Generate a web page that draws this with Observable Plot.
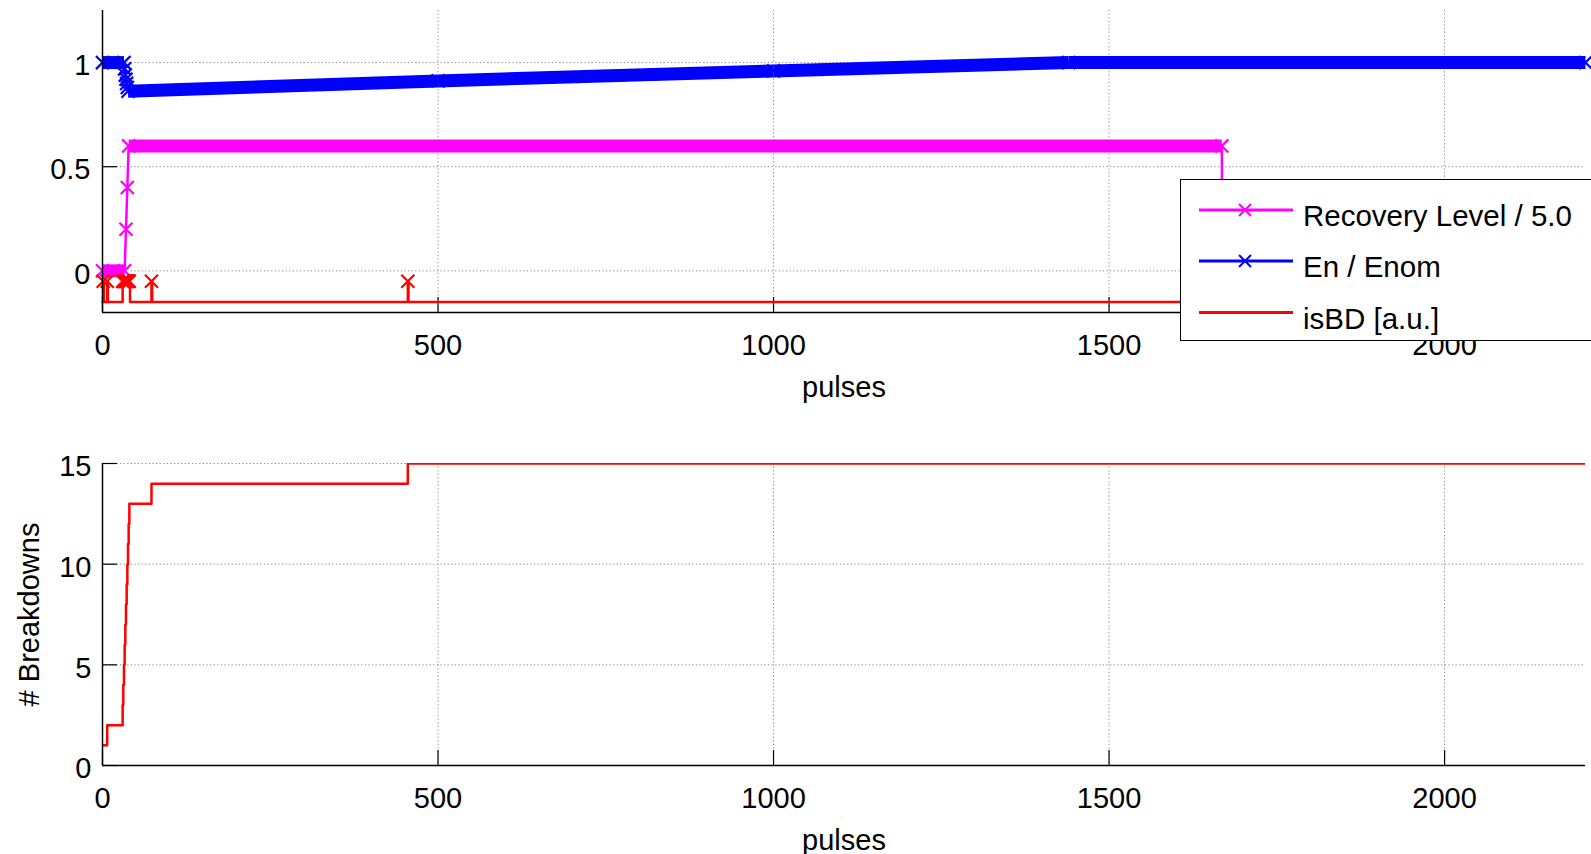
<!DOCTYPE html>
<html><head><meta charset="utf-8">
<script src="https://cdn.jsdelivr.net/npm/d3@7"></script>
<script src="https://cdn.jsdelivr.net/npm/@observablehq/plot@0.6"></script>
<style>
body{margin:0;background:#fff;font-family:"Liberation Sans",Arial,sans-serif;}
#wrap{position:relative;width:1591px;height:854px;overflow:hidden;background:#fff;}
#wrap svg{display:block;}
#legend{position:absolute;left:1180px;top:179px;width:430px;height:162px;background:#fff;border:1.5px solid #000;box-sizing:border-box;}
</style></head><body>
<div id="wrap"><div id="topChart"></div><div id="bottomChart"></div><div id="legend"></div></div>
<script>
// ---------- data ----------
const pulseMax = 2210;
const recoveryPulses = [0, 33, 35, 37, 39, 1668, 1669, 2210];
const recoveryLevels = [0, 0, 0.2, 0.4, 0.6, 0.6, 0, 0];           // Recovery Level / 5.0
const energyPulses = [0, 32, 33, 34, 35, 36, 37, 38, 500, 1000, 1440, 2210];
const energyRatio  = [1, 1, 0.97, 0.94, 0.92, 0.90, 0.88, 0.862, 0.912, 0.96, 1, 1]; // En / Enom
const breakdownPulses = [1, 7, 30, 31, 32, 33, 34, 35, 36, 37, 38, 39, 40, 73, 455];
const isBDLevels = [-0.15, -0.05];   // isBD [a.u.]: off, on
const topXTicks = [0, 500, 1000, 1500, 2000];
const topYTicks = [0, 0.5, 1];
const botXTicks = [0, 500, 1000, 1500, 2000];
const botYTicks = [0, 5, 10, 15];
const seriesNames = ["Recovery Level / 5.0", "En / Enom", "isBD [a.u.]"];
const seriesColors = ["#ff00ff", "#0000ff", "#ff0000"];

// ---------- derived tables ----------
const recovery = recoveryPulses.map((p, i) => ({pulse: p, v: recoveryLevels[i]}));
const energy = energyPulses.map((p, i) => ({pulse: p, v: energyRatio[i]}));
const denseSegs = arr => arr.slice(1).map((d, i) => ({a: arr[i], b: d})).filter(s => s.b.pulse - s.a.pulse >= 5);
const bdSet = new Set(breakdownPulses);
const isBD = [];
if (!bdSet.has(0)) isBD.push({pulse: 0, v: isBDLevels[0]});
for (const p of breakdownPulses) {
  isBD.push({pulse: p, v: isBDLevels[1]});
  if (!bdSet.has(p + 1)) isBD.push({pulse: p + 1, v: isBDLevels[0]});
}
isBD.push({pulse: pulseMax, v: isBDLevels[0]});
const cumBD = breakdownPulses.map((p, i) => ({pulse: p, n: i + 1}));
cumBD.push({pulse: pulseMax, n: breakdownPulses.length});

const FONT = "Liberation Sans, Arial, sans-serif";
const FS = 29;
const gridStyle = {stroke: "#888", strokeOpacity: 1, strokeWidth: 1, strokeDasharray: "1.2,2.4"};
const fmt = d => String(d);

function seriesMarks(data, color) {
  return [
    Plot.link(denseSegs(data), {x1: d => d.a.pulse, y1: d => d.a.v, x2: d => d.b.pulse, y2: d => d.b.v, stroke: color, strokeWidth: 13}),
    Plot.line(data, {x: "pulse", y: "v", stroke: color, strokeWidth: 2.5}),
    Plot.dot(data, {x: "pulse", y: "v", symbol: "times", r: 6, stroke: color, strokeWidth: 2.2, fill: "none"})
  ];
}

// ---------- top chart ----------
const W = 1591;
const topH = 420, topMT = 10, topMB = 108, ML = 102, MR = 6;
const topPH = topH - topMT - topMB, PW = W - ML - MR;
const topSvg = Plot.plot({
  width: W, height: topH, marginLeft: ML, marginRight: MR, marginTop: topMT, marginBottom: topMB,
  x: {domain: [0, pulseMax]}, y: {domain: [-0.2, 1.25]},
  style: {fontFamily: FONT, fontSize: FS + "px", color: "#000", background: "transparent", overflow: "visible"},
  marks: [
    Plot.gridX(topXTicks.slice(1), gridStyle),
    Plot.gridY(topYTicks, gridStyle),
    Plot.axisX(topXTicks, {tickSize: 0, tickPadding: 22, tickFormat: fmt, label: null, fontSize: FS}),
    Plot.axisY(topYTicks, {tickSize: 0, tickPadding: 12, dy: 3.5, tickFormat: fmt, label: null, fontSize: FS}),
    Plot.tickX(topXTicks, {x: d => d, insetTop: topPH - 15, stroke: "#000", strokeWidth: 1.2}),
    Plot.tickY(topYTicks, {y: d => d, insetRight: PW - 15, stroke: "#000", strokeWidth: 1.2}),
    ...seriesMarks(recovery, seriesColors[0]),
    ...seriesMarks(energy, seriesColors[1]),
    Plot.line(isBD, {x: "pulse", y: "v", curve: "step-after", stroke: seriesColors[2], strokeWidth: 2.5}),
    Plot.dot(breakdownPulses, {x: d => d, y: () => isBDLevels[1], symbol: "times", r: 6, stroke: seriesColors[2], strokeWidth: 2.2, fill: "none"}),
    Plot.ruleX([0], {stroke: "#000", strokeWidth: 1.5}),
    Plot.ruleY([-0.2], {stroke: "#000", strokeWidth: 1.5}),
    Plot.text(["pulses"], {frameAnchor: "bottom", dy: 84, fontSize: FS})
  ]
});
document.getElementById("topChart").appendChild(topSvg);

// ---------- bottom chart ----------
const botH = 434, botMT = 43, botMB = 89;
const botPH = botH - botMT - botMB;
const bottomSvg = Plot.plot({
  width: W, height: botH, marginLeft: ML, marginRight: MR, marginTop: botMT, marginBottom: botMB,
  x: {domain: [0, pulseMax]}, y: {domain: [0, 15]},
  style: {fontFamily: FONT, fontSize: FS + "px", color: "#000", background: "transparent", overflow: "visible"},
  marks: [
    Plot.gridX(botXTicks.slice(1), gridStyle),
    Plot.gridY(botYTicks.slice(1), gridStyle),
    Plot.axisX(botXTicks, {tickSize: 0, tickPadding: 22, tickFormat: fmt, label: null, fontSize: FS}),
    Plot.axisY(botYTicks, {tickSize: 0, tickPadding: 11, dy: 3.5, tickFormat: fmt, label: null, fontSize: FS}),
    Plot.tickX(botXTicks, {x: d => d, insetTop: botPH - 15, stroke: "#000", strokeWidth: 1.2}),
    Plot.tickY(botYTicks, {y: d => d, insetRight: PW - 15, stroke: "#000", strokeWidth: 1.2}),
    Plot.line(cumBD, {x: "pulse", y: "n", curve: "step-after", stroke: seriesColors[2], strokeWidth: 2.5, clip: true}),
    Plot.ruleX([0], {stroke: "#000", strokeWidth: 1.5}),
    Plot.ruleY([0], {stroke: "#000", strokeWidth: 1.5}),
    Plot.text(["pulses"], {frameAnchor: "bottom", dy: 84, fontSize: FS}),
    Plot.text(["# Breakdowns"], {frameAnchor: "left", textAnchor: "middle", rotate: -90, dx: -73, fontSize: FS})
  ]
});
document.getElementById("bottomChart").appendChild(bottomSvg);

// ---------- legend (inside top axes, opaque) ----------
const lg = d3.select("#legend").append("svg").attr("width", 430).attr("height", 162)
  .style("font-family", FONT).style("font-size", "29.5px");
const rowY = [30, 81, 132.5];
const hasMarker = [true, true, false];
seriesNames.forEach((name, i) => {
  lg.append("line").attr("x1", 18).attr("x2", 112).attr("y1", rowY[i]).attr("y2", rowY[i])
    .attr("stroke", seriesColors[i]).attr("stroke-width", 3);
  if (hasMarker[i]) {
    lg.append("path").attr("d", d3.symbol(d3.symbolTimes, Math.PI * 5.5 * 5.5)())
      .attr("transform", `translate(64,${rowY[i]})`).attr("stroke", seriesColors[i]).attr("stroke-width", 2).attr("fill", "none");
  }
  lg.append("text").attr("x", 122).attr("y", rowY[i] + 16).attr("fill", "#000").text(name);
});
</script>
</body></html>
